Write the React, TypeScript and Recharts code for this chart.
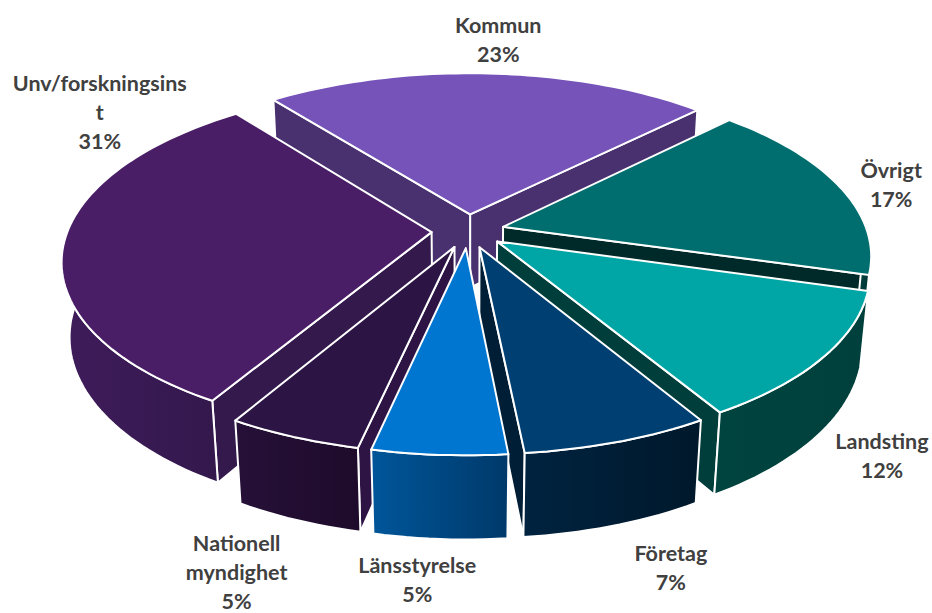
import React from "react";
import { PieChart, Pie } from "recharts";

const categories = [
  "Kommun",
  "Övrigt",
  "Landsting",
  "Företag",
  "Länsstyrelse",
  "Nationell myndighet",
  "Unv/forskningsinst",
];
const shares = [23, 17, 12, 7, 5, 5, 31];

const topColors = ["#7553b8", "#006e6e", "#00a5a5", "#003f72", "#0076d0", "#2c1545", "#4a1e66"];
const wallLight = ["#48316e", "#004240", "#00443f", "#002340", "#00569a", "#261038", "#3f1c5b"];
const wallDark = ["#3a2659", "#003533", "#00403c", "#00182b", "#00396a", "#1e0b2b", "#33184c"];
const cutColors = ["#48316e", "#002a2a", "#003e3c", "#001f36", "#003d6d", "#2d1444", "#34194d"];

// back-to-front paint order (index into categories)
const paintOrder = [0, 1, 6, 2, 3, 5, 4];

// label shift from the slice's rim midpoint, px
const labelShift: [number, number][] = [
  [10, -34],
  [52, -2],
  [59, 98],
  [53, 126],
  [-22, 125],
  [-57, 135],
  [36, -131],
];

const data = categories.map((name, i) => ({ name, value: shares[i] }));

const RAD = Math.PI / 180;
const TILT_SIN = 0.4627;
const TILT_COS = Math.sqrt(1 - TILT_SIN * TILT_SIN);
const CAM_DIST = 5.6;
const THICK = 0.234;
const EXPLODE = 0.1;
const FONT = "Lato, 'Liberation Sans', Arial, sans-serif";

// disk coords (u right, v away from viewer, h up) -> screen
function project(cx: number, cy: number, r: number, u: number, v: number, h: number): [number, number] {
  const d = CAM_DIST + v * TILT_COS - h * TILT_SIN;
  const f = r * CAM_DIST;
  return [cx + (f * u) / d, cy - (f * (v * TILT_SIN + h * TILT_COS)) / d];
}

const toPath = (pts: [number, number][]) =>
  "M" + pts.map((p) => p[0].toFixed(1) + "," + p[1].toFixed(1)).join("L") + "Z";

function Slice3D(props: any) {
  const { cx, cy, outerRadius, startAngle, endAngle, payload } = props;
  const i = categories.indexOf(payload.name);
  const a1 = Math.min(startAngle, endAngle);
  const a2 = Math.max(startAngle, endAngle);
  const mid = ((a1 + a2) / 2) * RAD;
  const ox = EXPLODE * Math.cos(mid);
  const oy = EXPLODE * Math.sin(mid);
  const P = (u: number, v: number, h: number) => project(cx, cy, outerRadius, u, v, h);
  const rim = (deg: number, h: number) => P(ox + Math.cos(deg * RAD), oy + Math.sin(deg * RAD), h);
  const hub = (h: number) => P(ox, oy, h);
  const arc = (from: number, to: number, h: number) => {
    const n = Math.max(2, Math.ceil(Math.abs(to - from) / 1.5));
    const pts: [number, number][] = [];
    for (let k = 0; k <= n; k++) pts.push(rim(from + ((to - from) * k) / n, h));
    return pts;
  };

  const gid = `wall-grad-${i}`;
  const faces: React.ReactElement[] = [];
  if (Math.cos(a1 * RAD) > 0) {
    faces.push(
      <path key="cut1" d={toPath([hub(0), rim(a1, 0), rim(a1, -THICK), hub(-THICK)])} fill={cutColors[i]} />
    );
  }
  if (Math.cos(a2 * RAD) < 0) {
    faces.push(
      <path key="cut2" d={toPath([hub(0), rim(a2, 0), rim(a2, -THICK), hub(-THICK)])} fill={cutColors[i]} />
    );
  }
  for (let k = -2; k <= 1; k++) {
    const lo = Math.max(a1, -180 + 360 * k);
    const hi = Math.min(a2, 360 * k);
    if (hi - lo > 0.05) {
      const pts = [...arc(lo, hi, 0), ...arc(lo, hi, -THICK).reverse()];
      faces.push(<path key={"wall" + k} d={toPath(pts)} fill={`url(#${gid})`} />);
    }
  }
  faces.push(<path key="top" d={toPath([hub(0), ...arc(a1, a2, 0)])} fill={topColors[i]} />);

  return (
    <g stroke="#ffffff" strokeWidth={2} strokeLinejoin="round">
      <defs>
        <linearGradient id={gid} x1="0" x2="1" y1="0" y2="0">
          <stop offset="0" stopColor={wallLight[i]} />
          <stop offset="1" stopColor={wallDark[i]} />
        </linearGradient>
      </defs>
      {faces}
    </g>
  );
}

function wrap(text: string, max: number): string[] {
  const out: string[] = [];
  for (const word of text.split(" ")) {
    let w = word;
    while (w.length > max) {
      out.push(w.slice(0, max));
      w = w.slice(max);
    }
    out.push(w);
  }
  return out;
}

function SliceLabel(props: any) {
  const { cx, cy, outerRadius, midAngle, percent, payload } = props;
  const i = categories.indexOf(payload.name);
  const m = midAngle * RAD;
  const [x0, y0] = project(cx, cy, outerRadius, (1 + EXPLODE) * Math.cos(m), (1 + EXPLODE) * Math.sin(m), 0);
  const x = x0 + labelShift[i][0];
  const y = y0 + labelShift[i][1];
  const lines = [...wrap(payload.name, 17), `${Math.round(percent * 100)}%`];
  const lh = 29;
  const fs = 21.5;
  return (
    <text textAnchor="middle" fontFamily={FONT} fontWeight="bold" fontSize={fs} fill="#404040" stroke="none">
      {lines.map((t, k) => (
        <tspan key={k} x={x} y={y + (k - (lines.length - 1) / 2) * lh + fs * 0.36}>
          {t}
        </tspan>
      ))}
    </text>
  );
}

const only = (name: string) => (props: any) =>
  props.payload && props.payload.name === name ? <Slice3D {...props} /> : <g />;

export default function App() {
  return (
    <div style={{ position: "absolute", left: 0, top: 0, width: 932, height: 613, background: "#fff" }}>
      <PieChart width={932} height={613} margin={{ top: 0, right: 0, bottom: 0, left: 0 }}>
        {paintOrder.map((idx, n) => (
          <Pie
            key={categories[idx]}
            data={data}
            dataKey="value"
            nameKey="name"
            cx={468}
            cy={231}
            outerRadius={364}
            startAngle={128}
            endAngle={-232}
            stroke="none"
            isAnimationActive={false}
            shape={only(categories[idx])}
            label={n === paintOrder.length - 1 ? SliceLabel : false}
            labelLine={false}
          />
        ))}
      </PieChart>
    </div>
  );
}
